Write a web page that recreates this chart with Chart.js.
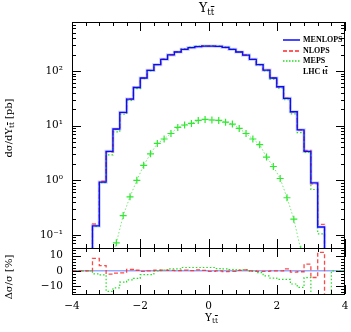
<!DOCTYPE html>
<html>
<head>
<meta charset="utf-8">
<script src="https://cdn.jsdelivr.net/npm/chart.js@4.4.1/dist/chart.umd.min.js"></script>
<style>
body{margin:0;background:#fff;}
#page{position:relative;width:351px;height:332px;overflow:hidden;font-family:'DejaVu Serif',serif;color:#000;}
#page canvas{position:absolute;left:0;}
.t{position:absolute;white-space:nowrap;line-height:1;}
.ov{text-decoration:overline;}
sub{font-size:70%;vertical-align:-0.3em;line-height:0;}
.rot{transform:translate(-50%,-50%) rotate(-90deg);}
.leg{position:absolute;left:283px;font:bold 8px 'Liberation Serif',serif;white-space:nowrap;line-height:8px;}
.leg svg{vertical-align:middle;margin-right:3px;}
</style>
</head>
<body>
<div id="page">
  <canvas id="main" width="351" height="250" style="top:0px"></canvas>
  <canvas id="ratio" width="351" height="92" style="top:240px"></canvas>

  <div class="t" style="left:199px;top:2px;font-size:12.5px;">Y<sub>t<span class="ov">t</span></sub></div>
  <div class="t rot" style="left:9px;top:128px;font-size:10px;">dσ/dY<sub>t<span class="ov">t</span></sub> [pb]</div>
  <div class="t rot" style="left:9px;top:277px;font-size:10px;">Δσ/σ [%]</div>
  <div class="t" style="left:205px;top:312px;font-size:10.5px;">Y<sub>t<span class="ov">t</span></sub></div>

  <div class="leg" style="top:36px;"><svg width="17" height="4"><line x1="0" y1="2" x2="17" y2="2" stroke="#0a0aff" stroke-width="1.5"/></svg>MENLOPS</div>
  <div class="leg" style="top:47px;"><svg width="17" height="4"><line x1="0" y1="2" x2="17" y2="2" stroke="#ff2828" stroke-width="1.3" stroke-dasharray="4 2"/></svg>NLOPS</div>
  <div class="leg" style="top:57px;"><svg width="17" height="4"><line x1="0" y1="2" x2="17" y2="2" stroke="#22dd22" stroke-width="1.3" stroke-dasharray="1.5 1.5"/></svg>MEPS</div>
  <div class="leg" style="top:68px;"><svg width="17" height="4"></svg>LHC t<span class="ov">t</span></div>
</div>
<script>
// bin edges of the Y_tt histograms
var binEdges = [-3.4,-3.2,-3.0,-2.8,-2.6,-2.4,-2.2,-2.0,-1.8,-1.6,-1.4,-1.2,-1.0,-0.8,-0.6,-0.4,-0.2,0.0,
                0.2,0.4,0.6,0.8,1.0,1.2,1.4,1.6,1.8,2.0,2.2,2.4,2.6,2.8,3.0,3.2,3.4];

// dsigma/dY [pb] per bin
var menlops = [0.147,0.93,3.38,8.7,17.5,30.7,50,74.5,103,131,164,198,223,249,268,279,286,
               286,282,271,249,223,195,164,131,104,74.5,51.6,31.6,18,8.4,3.38,0.9,0.14];
var nlops   = [0.159,0.963,3.31,8.57,17.27,30.98,50.2,74.2,103,131.5,164.8,198.6,223.4,250.2,268.5,280.7,286.9,
               285.1,282,269.6,248,223.7,196.4,164,130.5,103.6,74.5,51.6,32,17.86,8.35,3.53,0.86,0.157];
var meps    = [0.144,0.906,2.92,7.72,16.2,28.9,47.5,72.6,100.4,131,164.8,200.6,225.9,254.5,273.9,285.1,292.3,
               292.3,286.2,274.5,251,224.6,196.4,163.5,129.4,100.6,70.9,48.7,29.8,16.4,7.48,3.23,0.68,0.105];

// lower curve with crosses
var lowX = [-2.9,-2.7,-2.5,-2.3,-2.1,-1.9,-1.7,-1.5,-1.3,-1.1,-0.9,-0.7,-0.5,-0.3,-0.1,
            0.1,0.3,0.5,0.7,0.9,1.1,1.3,1.5,1.7,1.9,2.1,2.3,2.5,2.7,2.9];
var lowY = [0.03,0.072,0.227,0.5,1.0,1.88,3.05,4.74,5.7,7.2,9.3,10.3,11.0,12.5,13.0,
            12.7,12.5,11.6,10.7,8.9,7.2,5.7,4.5,2.66,1.79,1.08,0.48,0.195,0.055,0.02];

// ratio panel, in % w.r.t. MENLOPS
var ratioEdges = [-4.0,-3.4,-3.2,-3.0,-2.8,-2.6,-2.4,-2.2,-2.0,-1.8,-1.6,-1.4,-1.2,-1.0,-0.8,-0.6,-0.4,-0.2,0.0,
                  0.2,0.4,0.6,0.8,1.0,1.2,1.4,1.6,1.8,2.0,2.2,2.4,2.6,2.8,3.0,3.2,3.4,3.6,4.0];
var nlopsRatio = [0,8.3,3.5,-2.2,-1.5,-1.3,0.9,0.4,-0.4,0,0.4,0.5,0.3,0.2,0.5,0.2,0.6,0.3,
                  -0.3,0,-0.5,-0.4,0.3,0.7,0,-0.4,-0.4,0,0,1.3,-0.8,-0.6,4.4,-4.4,12.2,-100,-100];
var mepsRatio  = [0,-2,-2.6,-13.5,-11.3,-7.5,-6,-5,-2.5,-2.5,0,0.5,1.3,1.3,2.2,2.2,2.2,2.2,
                  2.2,1.5,1.3,0.8,0.7,0.7,-0.3,-1.2,-3.3,-4.8,-5.6,-5.6,-8.7,-10.9,-4.5,-100,-100,-100,0];

var xMin = -4, xMax = 4;
var yMin = 0.0578, yMax = 789;
var rMin = -15.3, rMax = 15.1;
var ZERO = 1e-4;
var xLabels = [-4,-2,0,2,4];
var yLabels = [0.1,1,10,100];
var rLabels = [-10,0,10];

function histPts(edges, vals) {
	var pts = [{x: xMin, y: ZERO}];
	for (var i = 0; i < vals.length; i++) pts.push({x: edges[i], y: vals[i]});
	pts.push({x: edges[edges.length-1], y: ZERO});
	pts.push({x: xMax, y: ZERO});
	return pts;
}
function ratioPts(edges, vals) {
	var pts = [];
	for (var i = 0; i < vals.length; i++) pts.push({x: edges[i], y: vals[i]});
	pts.push({x: edges[edges.length-1], y: vals[vals.length-1]});
	return pts;
}
function minus(v) { return String(v).replace('-', '\u2212'); }

var sup = {'-1':'10\u207b\u00b9','0':'10\u2070','1':'10\u00b9','2':'10\u00b2'};
var tickFont = {family: 'DejaVu Serif', size: 10.5};

// inward tick marks and frame
var framePlugin = {
	id: 'frame',
	afterDatasetsDraw: function(chart, args, o) {
		var ctx = chart.ctx, a = chart.chartArea, xs = chart.scales.x, ys = chart.scales.y;
		ctx.save();
		ctx.strokeStyle = '#000';
		ctx.lineWidth = 1;
		ctx.strokeRect(a.left + 0.5, a.top + 0.5, a.right - a.left - 1, a.bottom - a.top);
		ctx.beginPath();
		for (var k = 0; k <= 20; k++) {
			var v = xMin + k * 0.4;
			var px = Math.round(xs.getPixelForValue(v)) + 0.5;
			var len = (k % 5 == 0) ? 9 : 4;
			ctx.moveTo(px, a.top); ctx.lineTo(px, a.top + len);
			ctx.moveTo(px, a.bottom); ctx.lineTo(px, a.bottom - len);
		}
		o.yTicks.forEach(function(t) {
			var py = Math.round(ys.getPixelForValue(t.v)) + 0.5;
			if (py < a.top + 1 || py > a.bottom - 1) return;
			var len = t.major ? 9 : 4;
			ctx.moveTo(a.left, py); ctx.lineTo(a.left + len, py);
			ctx.moveTo(a.right, py); ctx.lineTo(a.right - len, py);
		});
		ctx.stroke();
		ctx.restore();
	}
};

var logTicks = [];
for (var n = -2; n <= 2; n++) for (var m = 1; m <= 9; m++) logTicks.push({v: m * Math.pow(10, n), major: m == 1});
var linTicks = [];
for (var r = -14; r <= 14; r += 2) linTicks.push({v: r, major: r % 10 == 0});

function noPad(s) { s.paddingTop = 0; s.paddingBottom = 0; s.paddingLeft = 0; s.paddingRight = 0; }

var base = {
	animation: false, responsive: false, devicePixelRatio: 1,
	elements: {point: {radius: 0}, line: {tension: 0}},
	datasets: {line: {clip: 0, fill: false}}
};

// first dataset is drawn on top
new Chart(document.getElementById('main').getContext('2d'), {
	type: 'line',
	data: {datasets: [
		{label: 'low', data: lowX.map(function(x, i) { return {x: x, y: lowY[i]}; }),
		 borderColor: 'rgba(60,225,60,0.7)', borderWidth: 1, borderDash: [1.5, 2],
		 pointStyle: 'cross', pointRadius: 3.5, pointBorderColor: '#30e830', pointBorderWidth: 1.2},
		{label: 'MENLOPS', data: histPts(binEdges, menlops), stepped: 'before', borderColor: '#0a0aff', borderWidth: 1.3},
		{label: 'NLOPS', data: histPts(binEdges, nlops), stepped: 'before', borderColor: 'rgba(255,45,45,0.8)', borderWidth: 1.3, borderDash: [4, 2.5]},
		{label: 'MEPS', data: histPts(binEdges, meps), stepped: 'before', borderColor: '#22dd22', borderWidth: 1.2, borderDash: [1.5, 2]},
		{label: 'MENLOPS band', data: histPts(binEdges, menlops), stepped: 'before', borderColor: 'rgba(130,150,255,0.42)', borderWidth: 3.2}
	]},
	options: Object.assign({}, base, {
		layout: {autoPadding: false, padding: {top: 22, right: 6, bottom: 2, left: 0}},
		plugins: {legend: {display: false}, tooltip: {enabled: false}, frame: {yTicks: logTicks}},
		scales: {
			x: {type: 'linear', min: xMin, max: xMax, display: false},
			y: {type: 'logarithmic', min: yMin, max: yMax,
				grid: {display: false, drawTicks: false}, border: {display: false},
				afterFit: function(s) { s.width = 72; noPad(s); },
				afterBuildTicks: function(s) { s.ticks = yLabels.map(function(v) { return {value: v}; }); },
				ticks: {padding: 9, color: '#000', font: tickFont,
					callback: function(v) { return sup[String(Math.round(Math.log10(v)))]; }}
			}
		}
	}),
	plugins: [framePlugin]
});

new Chart(document.getElementById('ratio').getContext('2d'), {
	type: 'line',
	data: {datasets: [
		{label: 'NLOPS', data: ratioPts(ratioEdges, nlopsRatio), stepped: 'before', borderColor: 'rgba(255,40,40,0.85)', borderWidth: 1.3, borderDash: [4, 2.5]},
		{label: 'MEPS', data: ratioPts(ratioEdges, mepsRatio), stepped: 'before', borderColor: '#22dd22', borderWidth: 1.2, borderDash: [1.5, 2]},
		{label: 'ref', data: [{x: xMin, y: 0}, {x: xMax, y: 0}], borderColor: 'rgba(140,160,255,0.9)', borderWidth: 1.5}
	]},
	options: Object.assign({}, base, {
		layout: {autoPadding: false, padding: {top: 8, right: 6, bottom: 0, left: 0}},
		plugins: {legend: {display: false}, tooltip: {enabled: false}, frame: {yTicks: linTicks}},
		scales: {
			x: {type: 'linear', min: xMin, max: xMax,
				grid: {display: false, drawTicks: false}, border: {display: false},
				afterFit: function(s) { s.height = 38; noPad(s); },
				afterBuildTicks: function(s) { s.ticks = xLabels.map(function(v) { return {value: v}; }); },
				ticks: {padding: 6, color: '#000', font: tickFont, maxRotation: 0,
					callback: function(v) { return minus(v); }}
			},
			y: {type: 'linear', min: rMin, max: rMax,
				grid: {display: false, drawTicks: false}, border: {display: false},
				afterFit: function(s) { s.width = 72; noPad(s); },
				afterBuildTicks: function(s) { s.ticks = rLabels.map(function(v) { return {value: v}; }); },
				ticks: {padding: 9, color: '#000', font: tickFont,
					callback: function(v) { return minus(v); }}
			}
		}
	}),
	plugins: [framePlugin]
});
</script>
</body>
</html>
